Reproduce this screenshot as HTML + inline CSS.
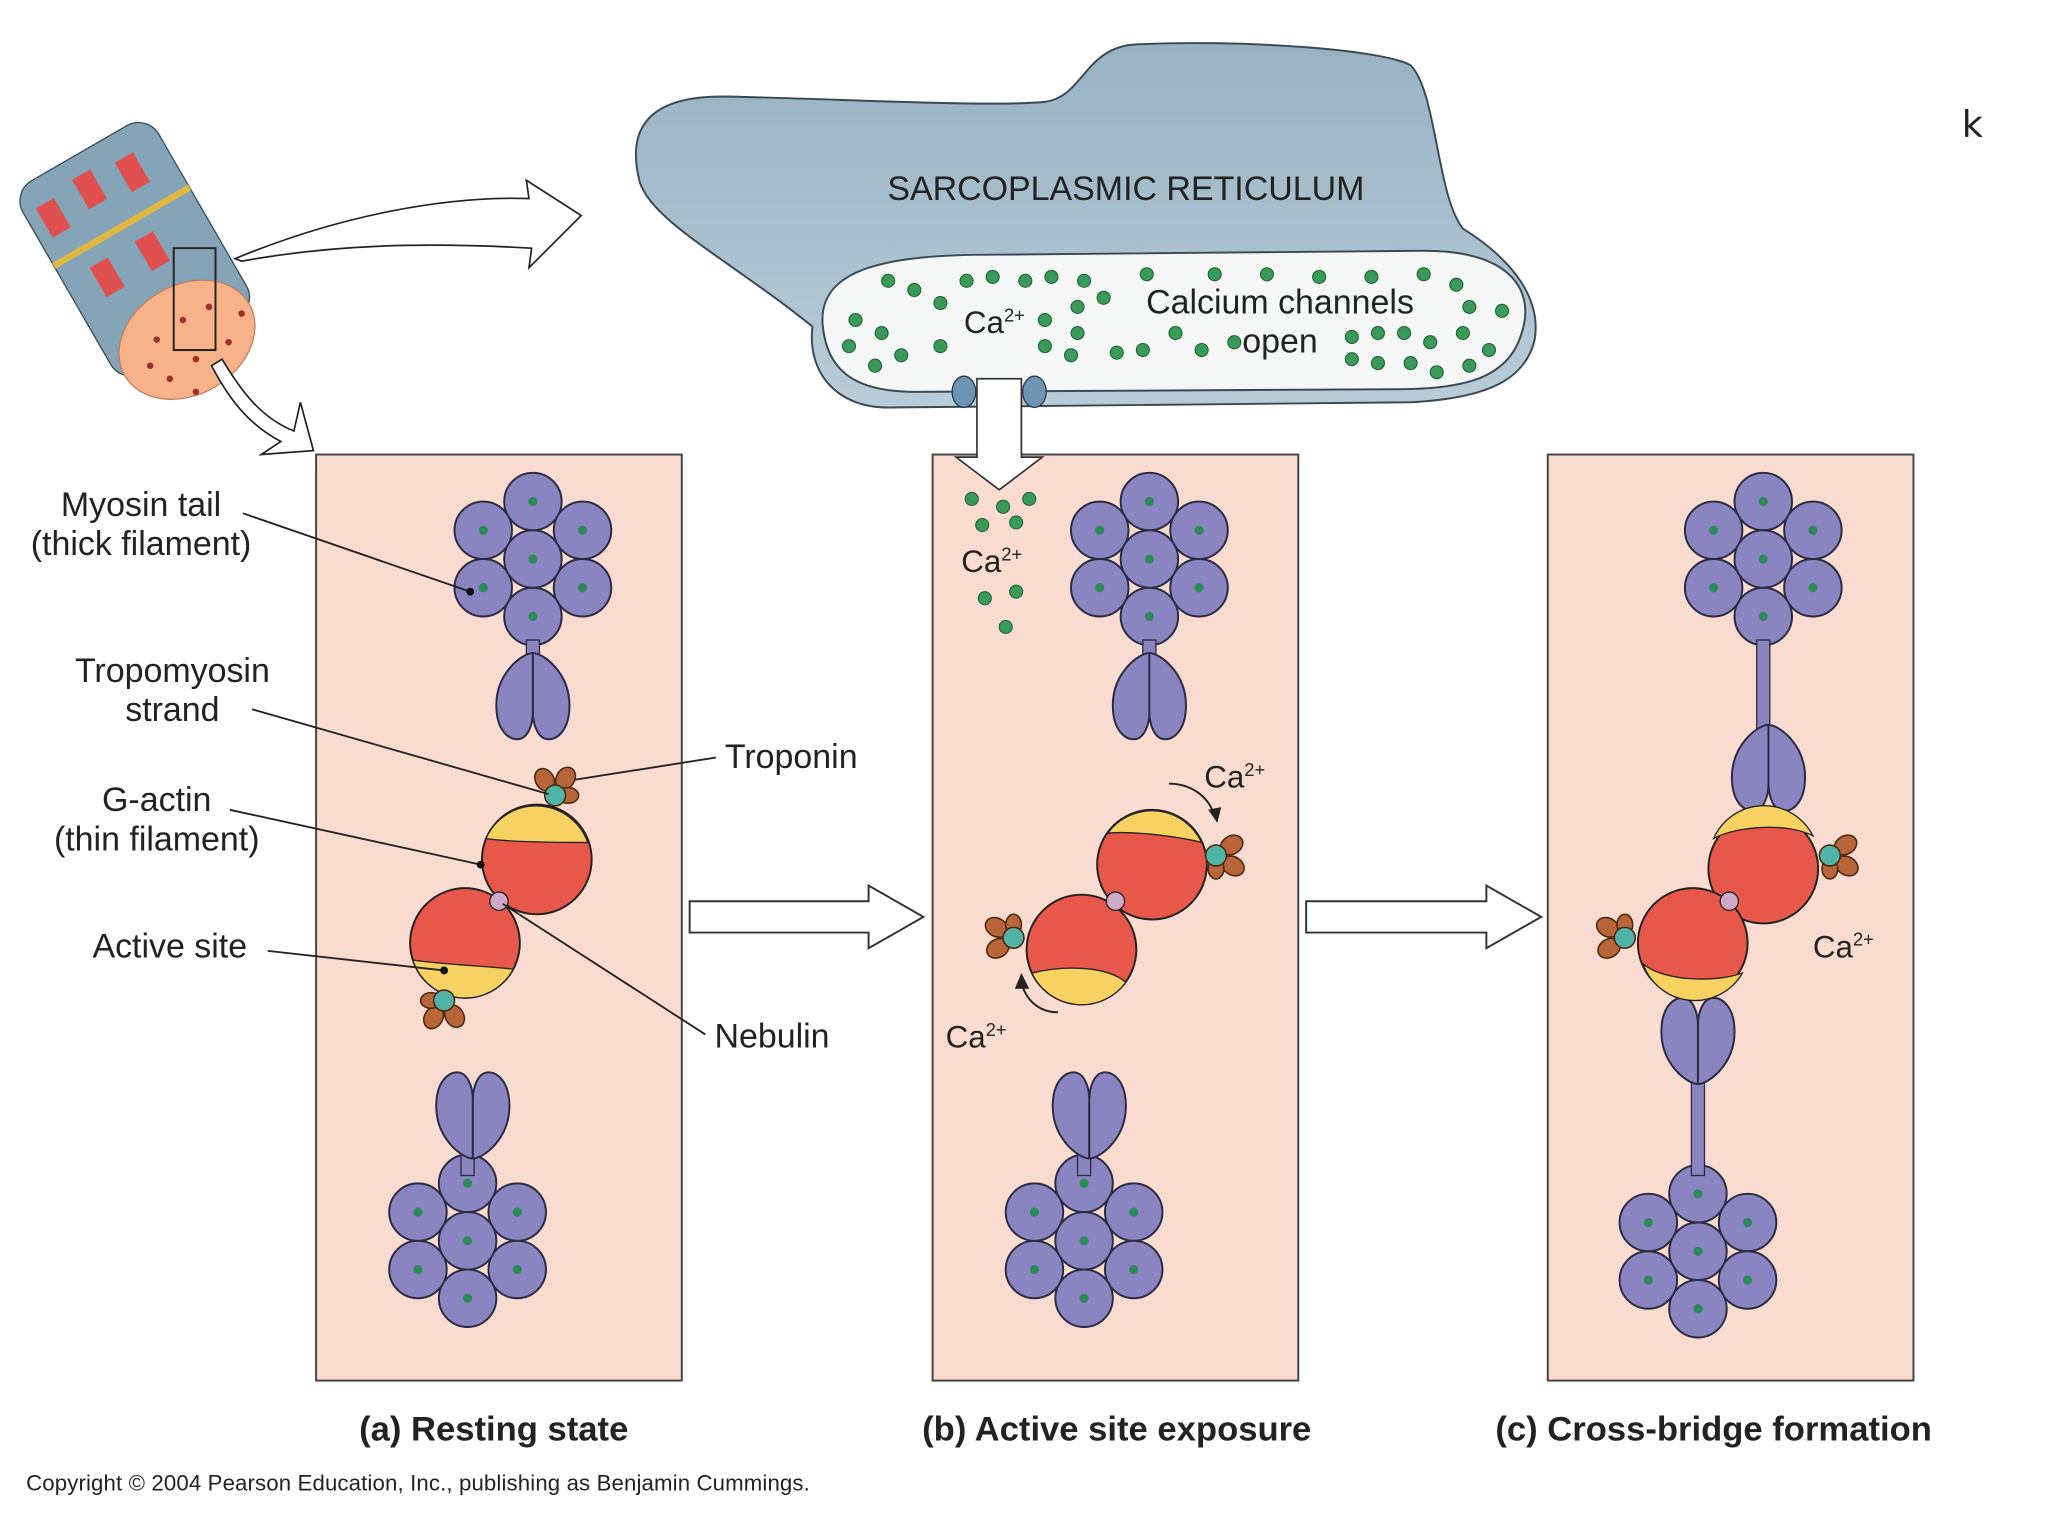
<!DOCTYPE html>
<html><head><meta charset="utf-8"><style>
html,body{margin:0;padding:0;background:#fff}
svg{display:block}
text{font-family:"Liberation Sans",sans-serif;fill:#222}
</style></head><body>
<svg width="2048" height="1536" viewBox="0 0 1568 1176" xmlns="http://www.w3.org/2000/svg">
<defs>
<linearGradient id="srg" x1="0" y1="0" x2="0" y2="1"><stop offset="0" stop-color="#98b2c2"/><stop offset="1" stop-color="#b9ccd8"/></linearGradient>
<g id="cl">
<g stroke="#2a2a40" stroke-width="1.5" fill="#8a84c0">
<circle cx="0" cy="-44" r="22"/><circle cx="38" cy="-22" r="22"/><circle cx="38" cy="22" r="22"/>
<circle cx="0" cy="44" r="22"/><circle cx="-38" cy="22" r="22"/><circle cx="-38" cy="-22" r="22"/><circle cx="0" cy="0" r="22"/>
</g>
<g fill="#2e8a5a"><circle cx="0" cy="-44" r="3.5"/><circle cx="38" cy="-22" r="3.5"/><circle cx="38" cy="22" r="3.5"/><circle cx="0" cy="44" r="3.5"/><circle cx="-38" cy="22" r="3.5"/><circle cx="-38" cy="-22" r="3.5"/><circle cx="0" cy="0" r="3.5"/></g>
</g>
<g id="hd" stroke="#2a2a40" stroke-width="1.5" fill="#8a84c0">
<path d="M0,0 C-8,0 -28,15 -28,40 C-28,60 -18,66 -12,66 C-4,66 0,55 0,45 Z"/>
<path d="M0,0 C8,0 28,15 28,40 C28,60 18,66 12,66 C4,66 0,55 0,45 Z"/>
</g>
<g id="tn" stroke="#4a2a10" stroke-width="1.2">
<ellipse cx="-8" cy="-8" rx="7" ry="9" fill="#b9653a" transform="rotate(-30 -8 -8)"/>
<ellipse cx="8" cy="-9" rx="7" ry="9" fill="#b9653a" transform="rotate(30 8 -9)"/>
<ellipse cx="10" cy="4" rx="8" ry="6" fill="#b9653a"/>
<circle cx="0" cy="4" r="8" fill="#4fb3a8"/>
</g>
</defs>

<text x="1502" y="105" font-size="28" style="font-family:'DejaVu Sans',sans-serif">k</text>

<!-- SR -->
<path d="M490,140 C478,95 500,72 560,74 C650,76 760,82 800,78 C830,74 830,36 870,34 C950,30 1060,38 1080,50 C1100,70 1100,150 1120,175 C1160,200 1180,230 1175,260 C1168,290 1140,305 1080,308 L680,312 C640,312 618,285 622,250 C560,200 500,170 490,140 Z" fill="url(#srg)" stroke="#3a4a55" stroke-width="1.5"/>
<path d="M630,250 C625,205 680,195 760,195 L1090,192 C1160,192 1175,225 1165,255 C1155,290 1120,298 1070,298 L700,300 C650,300 633,280 630,250 Z" fill="#f4f7f5" stroke="#3a4a55" stroke-width="1.5"/>
<text x="862" y="153" font-size="26" text-anchor="middle">SARCOPLASMIC RETICULUM</text>
<text x="738" y="255" font-size="24">Ca<tspan font-size="14" dy="-9">2+</tspan></text>
<text x="980" y="240" font-size="26" text-anchor="middle">Calcium channels</text>
<text x="980" y="270" font-size="26" text-anchor="middle">open</text>
<g fill="#3a9a5a" stroke="#1f5f35" stroke-width="0.8">
<circle cx="680" cy="215" r="5"/><circle cx="700" cy="222" r="5"/><circle cx="720" cy="232" r="5"/><circle cx="655" cy="245" r="5"/><circle cx="675" cy="255" r="5"/><circle cx="650" cy="265" r="5"/><circle cx="690" cy="272" r="5"/><circle cx="670" cy="280" r="5"/><circle cx="720" cy="265" r="5"/><circle cx="740" cy="215" r="5"/><circle cx="760" cy="212" r="5"/><circle cx="785" cy="215" r="5"/><circle cx="805" cy="212" r="5"/><circle cx="830" cy="215" r="5"/><circle cx="825" cy="235" r="5"/><circle cx="845" cy="228" r="5"/><circle cx="800" cy="245" r="5"/><circle cx="825" cy="255" r="5"/><circle cx="800" cy="265" r="5"/><circle cx="820" cy="272" r="5"/><circle cx="855" cy="270" r="5"/><circle cx="875" cy="268" r="5"/><circle cx="878" cy="210" r="5"/><circle cx="900" cy="255" r="5"/><circle cx="930" cy="210" r="5"/><circle cx="970" cy="210" r="5"/><circle cx="1010" cy="212" r="5"/><circle cx="1050" cy="212" r="5"/><circle cx="1090" cy="210" r="5"/><circle cx="1115" cy="218" r="5"/><circle cx="1125" cy="235" r="5"/><circle cx="1150" cy="238" r="5"/><circle cx="1035" cy="258" r="5"/><circle cx="1055" cy="255" r="5"/><circle cx="1075" cy="255" r="5"/><circle cx="1095" cy="262" r="5"/><circle cx="1120" cy="255" r="5"/><circle cx="1140" cy="268" r="5"/><circle cx="1035" cy="275" r="5"/><circle cx="1055" cy="278" r="5"/><circle cx="1080" cy="278" r="5"/><circle cx="1100" cy="285" r="5"/><circle cx="1125" cy="280" r="5"/><circle cx="920" cy="268" r="5"/><circle cx="945" cy="262" r="5"/>
</g>
<ellipse cx="738" cy="300" rx="9" ry="12" fill="#6f93b3" stroke="#2a3a4a"/>
<ellipse cx="792" cy="300" rx="9" ry="12" fill="#6f93b3" stroke="#2a3a4a"/>

<!-- fiber illustration -->
<g transform="rotate(-30 120 210)">
<rect x="55" y="100" width="120" height="170" rx="18" fill="#86a4b8" stroke="#3a4a55"/>
<ellipse cx="115" cy="265" rx="55" ry="42" fill="#f7b28a" stroke="#c08060"/>
<rect x="65" y="120" width="16" height="26" fill="#e05050"/><rect x="100" y="115" width="16" height="26" fill="#e05050"/><rect x="135" y="120" width="16" height="26" fill="#e05050"/>
<rect x="78" y="180" width="16" height="26" fill="#e05050"/><rect x="118" y="180" width="16" height="26" fill="#e05050"/>
<path d="M55,165 L175,165" stroke="#e0b840" stroke-width="5"/>
</g>
<g fill="#a0302a"><circle cx="120" cy="260" r="2.5"/><circle cx="140" cy="245" r="2.5"/><circle cx="160" cy="235" r="2.5"/><circle cx="130" cy="290" r="2.5"/><circle cx="150" cy="275" r="2.5"/><circle cx="175" cy="262" r="2.5"/><circle cx="150" cy="300" r="2.5"/><circle cx="115" cy="280" r="2.5"/><circle cx="185" cy="240" r="2.5"/></g>
<rect x="133" y="190" width="32" height="78" fill="none" stroke="#222" stroke-width="1.5"/>
<path d="M180,198 C260,165 340,150 405,152 L403,138 L445,165 L405,205 L407,190 C320,185 250,188 185,200 Z" fill="#fff" stroke="#222" stroke-width="1.3"/>
<path d="M170,275 C185,300 200,320 225,330 L230,308 L240,345 L200,348 L215,338 C190,325 175,305 162,280 Z" fill="#fff" stroke="#222" stroke-width="1.3"/>

<!-- panels -->
<g fill="#f9dbd0" stroke="#444" stroke-width="1.5">
<rect x="242" y="348" width="280" height="709"/>
<rect x="714" y="348" width="280" height="709"/>
<rect x="1185" y="348" width="280" height="709"/>
</g>
<path d="M748,290 L782,290 L782,350 L798,350 L765,375 L732,350 L748,350 Z" fill="#fff" stroke="#333" stroke-width="1.3"/>
<path d="M528,690 L665,690 L665,678 L707,702 L665,726 L665,714 L528,714 Z" fill="#fff" stroke="#333" stroke-width="1.5"/>
<path d="M1000,690 L1138,690 L1138,678 L1180,702 L1138,726 L1138,714 L1000,714 Z" fill="#fff" stroke="#333" stroke-width="1.5"/>

<!-- Panel a -->
<use href="#cl" x="408" y="428"/>
<rect x="403" y="490" width="10" height="14" fill="#8a84c0" stroke="#2a2a40"/>
<use href="#hd" x="408" y="500"/>
<use href="#cl" x="358" y="950"/>
<rect x="353" y="884" width="10" height="16" fill="#8a84c0" stroke="#2a2a40"/>
<use href="#hd" transform="translate(362,887) scale(1,-1)"/>
<circle cx="411" cy="658" r="42" fill="#e8584a" stroke="#222" stroke-width="1.5"/>
<path d="M372,642 A42,42 0 0 1 450,645 C430,645 390,645 372,642 Z" fill="#f7d262" stroke="#222" stroke-width="1"/>
<circle cx="356" cy="722" r="42" fill="#e8584a" stroke="#222" stroke-width="1.5"/>
<path d="M316,735 A42,42 0 0 0 393,742 C375,740 335,738 316,735 Z" fill="#f7d262" stroke="#222" stroke-width="1"/>
<circle cx="382" cy="690" r="7" fill="#d0a8c8" stroke="#222"/>
<use href="#tn" x="425" y="605"/>
<use href="#tn" transform="translate(340,770) scale(-1,-1)"/>

<!-- Panel b -->
<use href="#cl" x="880" y="428"/>
<rect x="875" y="490" width="10" height="14" fill="#8a84c0" stroke="#2a2a40"/>
<use href="#hd" x="880" y="500"/>
<use href="#cl" x="830" y="950"/>
<rect x="825" y="884" width="10" height="16" fill="#8a84c0" stroke="#2a2a40"/>
<use href="#hd" transform="translate(834,887) scale(1,-1)"/>
<circle cx="882" cy="662" r="42" fill="#e8584a" stroke="#222" stroke-width="1.5"/>
<path d="M848,638 A42,42 0 0 1 920,645 C900,640 865,636 848,638 Z" fill="#f7d262" stroke="#222"/>
<circle cx="828" cy="727" r="42" fill="#e8584a" stroke="#222" stroke-width="1.5"/>
<path d="M790,745 A42,42 0 0 0 862,752 C845,738 810,740 790,745 Z" fill="#f7d262" stroke="#222"/>
<circle cx="854" cy="690" r="7" fill="#d0a8c8" stroke="#222"/>
<use href="#tn" transform="translate(935,655) rotate(90)"/>
<use href="#tn" transform="translate(772,718) rotate(-90)"/>
<path d="M895,600 C910,600 925,608 930,625" fill="none" stroke="#222" stroke-width="1.5"/>
<path d="M925,620 L932,630 L935,618 Z" fill="#222"/>
<path d="M810,775 C795,775 785,765 782,752" fill="none" stroke="#222" stroke-width="1.5"/>
<path d="M777,757 L782,745 L788,757 Z" fill="#222"/>
<text x="922" y="603" font-size="24">Ca<tspan font-size="14" dy="-9">2+</tspan></text>
<text x="724" y="802" font-size="24">Ca<tspan font-size="14" dy="-9">2+</tspan></text>
<text x="736" y="438" font-size="24">Ca<tspan font-size="14" dy="-9">2+</tspan></text>
<g fill="#3a9a5a" stroke="#1f5f35" stroke-width="0.8">
<circle cx="744" cy="382" r="5"/><circle cx="768" cy="388" r="5"/><circle cx="788" cy="382" r="5"/><circle cx="752" cy="402" r="5"/><circle cx="778" cy="400" r="5"/><circle cx="754" cy="458" r="5"/><circle cx="778" cy="453" r="5"/><circle cx="770" cy="480" r="5"/>
</g>

<!-- Panel c -->
<use href="#cl" x="1350" y="428"/>
<rect x="1345" y="490" width="10" height="70" fill="#8a84c0" stroke="#2a2a40"/>
<use href="#hd" x="1354" y="555"/>
<use href="#cl" x="1300" y="958"/>
<rect x="1295" y="820" width="10" height="80" fill="#8a84c0" stroke="#2a2a40"/>
<use href="#hd" transform="translate(1300,830) scale(1,-1)"/>
<circle cx="1350" cy="665" r="42" fill="#e8584a" stroke="#222" stroke-width="1.5"/>
<path d="M1312,642 A42,42 0 0 1 1388,640 C1370,630 1330,632 1312,642 Z" fill="#f7d262" stroke="#222"/>
<circle cx="1296" cy="722" r="42" fill="#e8584a" stroke="#222" stroke-width="1.5"/>
<path d="M1258,738 A42,42 0 0 0 1334,745 C1315,752 1275,752 1258,738 Z" fill="#f7d262" stroke="#222"/>
<circle cx="1324" cy="690" r="7" fill="#d0a8c8" stroke="#222"/>
<use href="#tn" transform="translate(1405,655) rotate(90)"/>
<use href="#tn" transform="translate(1240,718) rotate(-90)"/>
<text x="1388" y="733" font-size="24">Ca<tspan font-size="14" dy="-9">2+</tspan></text>

<!-- labels & leaders -->
<g font-size="26">
<text x="108" y="395" text-anchor="middle">Myosin tail</text>
<text x="108" y="425" text-anchor="middle">(thick filament)</text>
<text x="132" y="522" text-anchor="middle">Tropomyosin</text>
<text x="132" y="552" text-anchor="middle">strand</text>
<text x="120" y="621" text-anchor="middle">G-actin</text>
<text x="120" y="651" text-anchor="middle">(thin filament)</text>
<text x="130" y="733" text-anchor="middle">Active site</text>
<text x="555" y="588">Troponin</text>
<text x="547" y="802">Nebulin</text>
</g>
<g stroke="#222" stroke-width="1.4" fill="none">
<path d="M186,393 L360,453"/><path d="M193,543 L420,608"/><path d="M176,620 L368,662"/><path d="M205,728 L340,743"/><path d="M440,597 L548,580"/><path d="M385,692 L540,792"/>
</g>
<g fill="#111"><circle cx="360" cy="453" r="3"/><circle cx="368" cy="662" r="3"/><circle cx="340" cy="743" r="3"/></g>

<g font-size="26.5" font-weight="bold" text-anchor="middle">
<text x="378" y="1103">(a) Resting state</text>
<text x="855" y="1103">(b) Active site exposure</text>
<text x="1312" y="1103">(c) Cross-bridge formation</text>
</g>
<text x="20" y="1141" font-size="17" textLength="600">Copyright © 2004 Pearson Education, Inc., publishing as Benjamin Cummings.</text>
</svg>
</body></html>
